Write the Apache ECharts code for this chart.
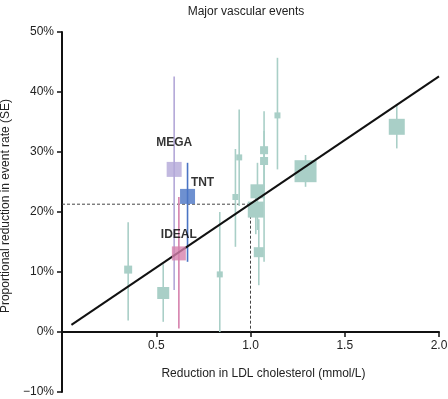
<!DOCTYPE html>
<html>
<head>
<meta charset="utf-8">
<script src="https://cdn.jsdelivr.net/npm/echarts@6/dist/echarts.min.js"></script>
<style>
  html, body { margin: 0; padding: 0; background: #fff; }
  #chart { width: 448px; height: 399px; }
</style>
</head>
<body>
<div id="chart"></div>
<script>
"use strict"
const fontName = '"Liberation Sans", Arial, sans-serif';

// trials without a name (teal squares)
const trialX = [0.351, 0.537, 0.837, 0.92, 0.94, 1.028, 1.037, 1.044, 1.072, 1.072, 1.143, 1.292, 1.776];
const trialY = [10.4, 6.5, 9.6, 22.5, 29.1, 20.4, 23.45, 13.3, 30.3, 28.5, 36.1, 26.8, 34.2];
const trialHi = [18.3, 11.3, 20.0, 30.5, 37.1, 24.5, 28.2, 18.8, 36.8, 33.5, 45.7, 29.5, 37.8];
const trialLo = [1.9, 1.7, 0, 14.2, 21.0, 16.3, 17.0, 7.8, 23.8, 11.7, 27.1, 24.2, 30.6];
const trialWeight = [8, 12, 6, 6, 6, 16, 14, 10, 8, 8, 6, 22, 16];

// named trials
const namedTrials = ['MEGA', 'TNT', 'IDEAL'];
const namedX = [0.595, 0.666, 0.62];
const namedY = [27.1, 22.6, 13.1];
const namedHi = [42.6, 28.2, 22.5];
const namedLo = [7.0, 11.7, 0.6];
const namedWeight = [15, 15, 14];

// regression line and reference
const fitX = [0.05, 2.0];
const fitY = [1.2, 42.6];
const refX = 1.0;
const refY = 21.3;

const teal = '#a9cfc7';
const namedColors = ['#b3a8d8', '#4a74c4', '#d681ad'];
const labelOffsets = [[0, -27], [15, -14], [0, -19]];

let chart = echarts.init(document.getElementById('chart'), null, {renderer: 'canvas'});

//误差线
function errorBars(xs, his, los, colors) {
    return {
        type: 'custom',
        silent: true,
        z: 2,
        data: xs.map(function (x, i) { return [x, his[i], los[i], i]; }),
        renderItem: function (params, api) {
            let top = api.coord([api.value(0), api.value(1)]);
            let bottom = api.coord([api.value(0), api.value(2)]);
            let c = Array.isArray(colors) ? colors[api.value(3)] : colors;
            return {
                type: 'line',
                shape: {x1: top[0], y1: top[1], x2: bottom[0], y2: bottom[1]},
                style: {stroke: c, lineWidth: 1.6}
            };
        }
    };
}

let option = {
    animation: false,
    backgroundColor: '#fff',
    textStyle: {fontFamily: fontName},
    title: {
        text: 'Major vascular events',
        left: 241,
        top: 1,
        textAlign: 'center',
        textStyle: {fontSize: 12, fontWeight: 'normal', color: '#222', fontFamily: fontName}
    },
    grid: {left: 62, top: 32, width: 377, height: 360, containLabel: false, outerBoundsMode: 'none'},
    xAxis: {
        type: 'value',
        min: 0,
        max: 2,
        interval: 0.5,
        // x 轴画在 0% 处
        offset: -60,
        name: 'Reduction in LDL cholesterol (mmol/L)',
        nameLocation: 'middle',
        nameGap: 36,
        nameTextStyle: {fontSize: 12, color: '#222', padding: [0, 0, 0, 26]},
        axisLine: {onZero: false, lineStyle: {color: '#111', width: 2}},
        axisTick: {length: 5, lineStyle: {color: '#111', width: 1.5}},
        axisLabel: {
            margin: 8, fontSize: 12, color: '#222',
            formatter: function (v) { return v === 0 ? '' : v.toFixed(1); }
        },
        splitLine: {show: false}
    },
    yAxis: {
        type: 'value',
        min: -10,
        max: 50,
        interval: 10,
        name: 'Proportional reduction in event rate (SE)',
        nameLocation: 'middle',
        nameGap: 50,
        nameTextStyle: {fontSize: 12, color: '#222', padding: [0, 0, 0, 12]},
        axisLine: {lineStyle: {color: '#111', width: 2}},
        axisTick: {length: 5, lineStyle: {color: '#111', width: 1.5}},
        axisLabel: {
            margin: 8, fontSize: 12, color: '#222',
            formatter: function (v) { return (v < 0 ? '\u2212' + (-v) : v) + '%'; }
        },
        splitLine: {show: false}
    },
    series: [
        {
            type: 'line',
            silent: true,
            symbol: 'none',
            z: 1,
            data: [[0, refY], [refX, refY], [refX, 0]],
            lineStyle: {color: '#444', width: 1, type: [3, 2]}
        },
        errorBars(trialX, trialHi, trialLo, teal),
        {
            type: 'scatter',
            symbol: 'rect',
            z: 3,
            data: trialX.map(function (x, i) { return [x, trialY[i], trialWeight[i]]; }),
            symbolSize: function (d) { return d[2]; },
            itemStyle: {color: teal, opacity: 1}
        },
        {
            type: 'line',
            silent: true,
            symbol: 'none',
            z: 4,
            data: fitX.map(function (x, i) { return [x, fitY[i]]; }),
            lineStyle: {color: '#111', width: 2}
        },
        errorBars(namedX, namedHi, namedLo, namedColors),
        {
            type: 'scatter',
            symbol: 'rect',
            z: 5,
            data: namedX.map(function (x, i) {
                return {
                    value: [x, namedY[i], namedWeight[i]],
                    itemStyle: {color: namedColors[i]},
                    label: {
                        show: true,
                        formatter: namedTrials[i],
                        position: 'inside',
                        offset: labelOffsets[i],
                        fontSize: 12,
                        fontWeight: 'bold',
                        color: '#000',
                        textBorderWidth: 0
                    }
                };
            }),
            symbolSize: function (d) { return d[2]; }
        }
    ]
};
chart.setOption(option);
</script>
</body>
</html>
